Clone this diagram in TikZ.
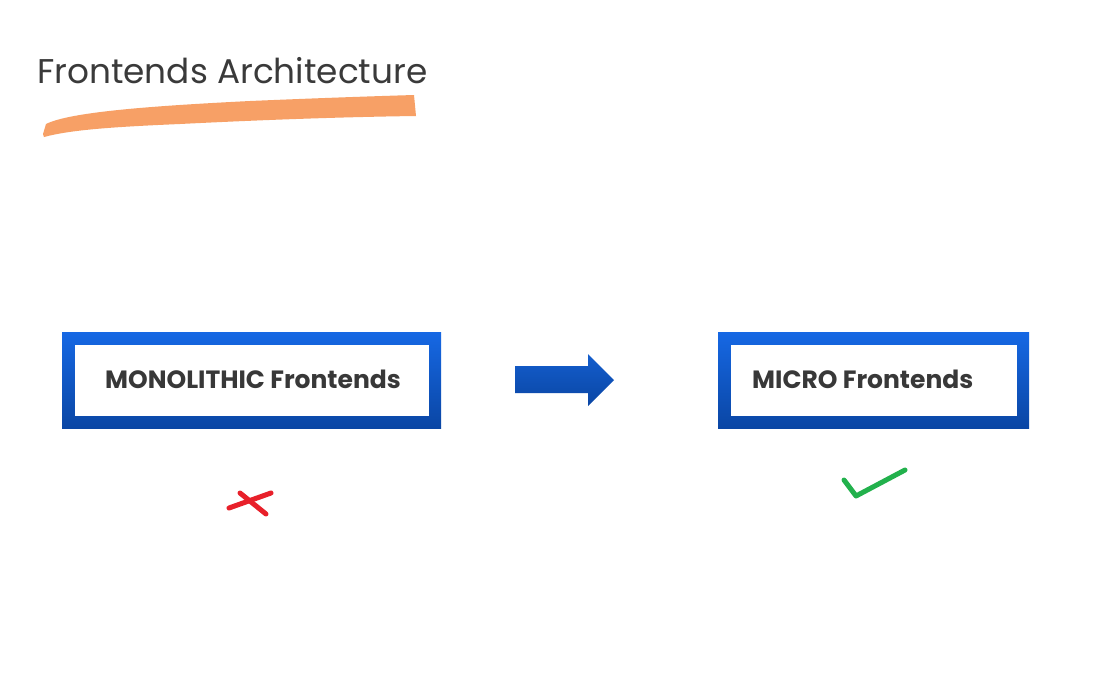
\documentclass[tikz,border=0pt]{standalone}
\usepackage{fontspec}
\setmainfont{Poppins}
\usetikzlibrary{shapes.arrows}
\definecolor{titlegray}{HTML}{3A3A3A}
\definecolor{textgray}{HTML}{383838}
\definecolor{brush}{HTML}{F7A066}
\definecolor{bluetop}{HTML}{1668E4}
\definecolor{bluebot}{HTML}{0A46A4}
\definecolor{xred}{HTML}{E8202A}
\definecolor{okgreen}{HTML}{22B14C}
\tikzset{
  outerbox/.style={rectangle, inner sep=0pt, top color=bluetop, bottom color=bluebot, draw=none},
  innerbox/.style={rectangle, inner sep=0pt, fill=white, draw=none},
  boxtext/.style={inner sep=0pt, anchor=base west, text=textgray, font=\bfseries\fontsize{25}{30}\selectfont},
  mark stroke/.style={line width=5pt, line cap=round, line join=round},
}
\begin{document}
\begin{tikzpicture}[x=1pt,y=-1pt]
\useasboundingbox (0,0) rectangle (1095,697);
\fill[white] (0,0) rectangle (1095,697);
% title
\node[anchor=base west, inner sep=0pt, text=titlegray, font=\fontsize{34.3}{40}\selectfont] (title) at (37,83) {Frontends Architecture};
% brush stroke
\fill[brush] (46,124) .. controls (70,112) and (150,106) .. (250,101)
  .. controls (320,98) and (380,96) .. (414,95)
  -- (416,116) .. controls (340,117) and (260,120) .. (180,124)
  .. controls (110,127) and (70,130) .. (44,137) -- (43,134) -- cycle;
% box 1
\node[outerbox, minimum width=379pt, minimum height=96pt] (mono) at (251.5,380) {};
\node[innerbox, minimum width=354pt, minimum height=71pt] (monoin) at (252,380.5) {};
\node[boxtext] (monotxt) at (105,388) {MONOLITHIC Frontends};
% box 2
\node[outerbox, minimum width=311pt, minimum height=96pt] (micro) at (873.5,380) {};
\node[innerbox, minimum width=286pt, minimum height=71pt] (microin) at (874,380.5) {};
\node[boxtext] (microtxt) at (752,388) {MICRO Frontends};
% arrow
\path[top color=bluetop!90!black, bottom color=bluebot] (515,366) -- (588,366) -- (588,354) -- (614,380) -- (588,406) -- (588,393) -- (515,393) -- cycle;
\coordinate (arrowtip) at (614,380);
% red cross
\coordinate (x1a) at (229,508);
\coordinate (x1b) at (271,493);
\coordinate (x2a) at (240,493);
\coordinate (x2b) at (266,514);
\draw[xred, mark stroke] (x1a) -- (x1b);
\draw[xred, mark stroke] (x2a) -- (x2b);
% green check
\coordinate (c1) at (844,480);
\coordinate (c2) at (856,496);
\coordinate (c3) at (905,470);
\draw[okgreen, mark stroke] (c1) -- (c2) -- (c3);
\end{tikzpicture}
\end{document}
